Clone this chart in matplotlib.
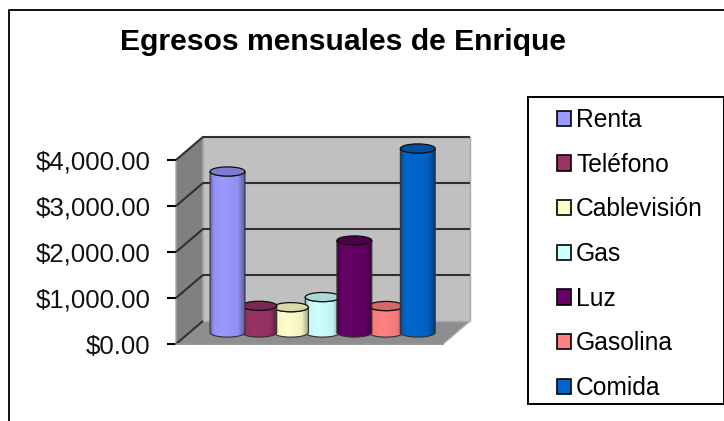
import numpy as np
import matplotlib
matplotlib.use('Agg')
import matplotlib.pyplot as plt
from matplotlib.patches import Ellipse, Patch, PathPatch, Polygon, Rectangle
from matplotlib.path import Path
from matplotlib.colors import to_rgb

plt.rcParams['font.family'] = ['Liberation Sans', 'DejaVu Sans']

W, H = 724, 421

categories = ['Renta', 'Teléfono', 'Cablevisión', 'Gas', 'Luz', 'Gasolina', 'Comida']
values = [3500, 580, 550, 770, 2000, 575, 4000]
colors = ['#9999FF', '#993366', '#FFFFCC', '#CCFFFF', '#660066', '#FF8080', '#0066CC']
top_colors = ['#7C7CD0', '#7A2850', '#D8D8A8', '#A8D8D8', '#4A004A', '#D86868', '#00509F']
yticks = [0, 1000, 2000, 3000, 4000]
ytick_labels = ['$0.00', '$1,000.00', '$2,000.00', '$3,000.00', '$4,000.00']
title = 'Egresos mensuales de Enrique'

# back to front, the bars overlap a little
draw_order = [3, 2, 1, 0, 5, 4, 6]

DEPTH_X = 0.85
DEPTH_Y = 500
BAR_RX = 0.55
BAR_RY = 100


def project(x, v, d):
    return x + DEPTH_X * d, v + DEPTH_Y * d


def fig_box(left, top, right, bottom):
    return [left / W, 1 - bottom / H, (right - left) / W, (bottom - top) / H]


def draw_walls(ax, x0, x1, ymax):
    side = [project(x0, 0, 0), project(x0, 0, 1), project(x0, ymax, 1), project(x0, ymax, 0)]
    floor = [project(x0, 0, 0), project(x1, 0, 0), project(x1, 0, 1), project(x0, 0, 1)]
    back = [project(x0, 0, 1), project(x1, 0, 1), project(x1, ymax, 1), project(x0, ymax, 1)]
    ax.add_patch(Polygon(side, fc='#808080', ec='#A8A8A8', lw=1, clip_on=False, zorder=1))
    ax.add_patch(Polygon(floor, fc='#8E8E8E', ec='#A8A8A8', lw=1, clip_on=False, zorder=1))
    ax.add_patch(Polygon(back, fc='#C0C0C0', ec='#A8A8A8', lw=1, clip_on=False, zorder=1))
    for v in yticks:
        xs, ys = zip(project(x0, v, 0), project(x0, v, 1), project(x1, v, 1))
        if v == 0:
            xs, ys = xs[:2], ys[:2]
        ax.plot(xs, ys, color='#303030', lw=1.5, clip_on=False, zorder=2, solid_capstyle='butt')
    ax.plot(*zip(project(x0, 0, 0), project(x1, 0, 0)), color='#909090', lw=1.2, clip_on=False, zorder=2)


def draw_cylinder(ax, fig, i, z):
    cx, base = project(i, 0, 0.5)
    top = values[i] + DEPTH_Y * 0.5
    t = np.linspace(np.pi, 2 * np.pi, 40)
    bottom_arc = np.column_stack([cx + BAR_RX * np.cos(t), base + BAR_RY * np.sin(t)])
    top_arc = np.column_stack([cx + BAR_RX * np.cos(t[::-1]), top + BAR_RY * np.sin(t[::-1])])
    verts = np.vstack([bottom_arc, top_arc, bottom_arc[:1]])
    codes = [Path.MOVETO] + [Path.LINETO] * (len(verts) - 2) + [Path.CLOSEPOLY]
    outline = Path(verts, codes)

    rgb = np.array(to_rgb(colors[i]))
    shade = np.interp(np.linspace(0, 1, 64), [0, 0.12, 0.4, 0.8, 1], [0.7, 0.97, 1.0, 0.95, 0.62])
    grad = np.clip(shade[None, :, None] * rgb[None, None, :], 0, 1)
    img = ax.imshow(grad, extent=[cx - BAR_RX, cx + BAR_RX, base - BAR_RY, top + BAR_RY],
                    aspect='auto', interpolation='bilinear', zorder=z)
    img.set_clip_path(PathPatch(outline, transform=ax.transData, fc='none', ec='none'))
    # images stop at the axes box otherwise, and the bars stand above it
    img.set_clip_box(fig.bbox)
    ax.add_patch(PathPatch(outline, fc='none', ec='#303030', lw=0.8, clip_on=False, zorder=z + 0.1))
    ax.add_patch(Ellipse((cx, top), 2 * BAR_RX, 2 * BAR_RY, fc=top_colors[i], ec='#101010',
                         lw=0.9, clip_on=False, zorder=z + 0.2))


def main():
    fig = plt.figure(figsize=(W / 100, H / 100), dpi=100, facecolor='white')

    # chart border: left and top only, it runs off the picture
    fig.add_artist(plt.Line2D([8.5 / W, 8.5 / W, 1], [0, 1 - 9.5 / H, 1 - 9.5 / H],
                              color='#101010', lw=1.4))

    fig.text(343.5 / W, 1 - 42 / H, title, fontsize=21.7, fontweight='bold', ha='center', va='center')

    ax = fig.add_axes(fig_box(176, 160, 443, 344))
    x0, x1 = -1.2, 7.22
    ax.set_xlim(x0, x1)
    ax.set_ylim(0, 4000)
    ax.patch.set_visible(False)
    for s in ax.spines.values():
        s.set_visible(False)
    ax.set_xticks([])
    ax.set_yticks(yticks)
    ax.set_yticklabels(ytick_labels, fontsize=18.6, color='#101010')
    ax.tick_params(axis='y', length=6.5, width=1.5, pad=12, color='black')

    draw_walls(ax, x0, x1, 4000)
    for n, i in enumerate(draw_order):
        draw_cylinder(ax, fig, i, 3 + n)
    ax.set_xlim(x0, x1)
    ax.set_ylim(0, 4000)

    fig.add_artist(Rectangle((528 / W, 1 - 404 / H), 195.5 / W, 307 / H, transform=fig.transFigure,
                             fc='white', ec='black', lw=1.4))
    handles = [Patch(fc=c, ec='black', lw=1.2) for c in colors]
    fig.legend(handles, categories, loc='upper left', bbox_to_anchor=(557 / W, 1 - 108 / H),
               frameon=False, fontsize=17.7, labelspacing=0.84, handlelength=0.58, handleheight=0.58,
               handletextpad=0.2, borderpad=0, borderaxespad=0)

    fig.savefig('out.png', dpi=100)


if __name__ == "__main__":
    main()
